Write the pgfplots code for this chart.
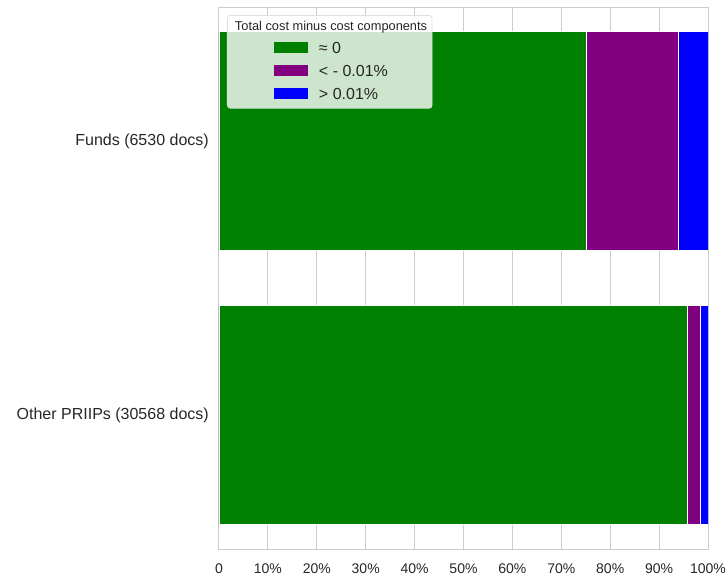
\documentclass[border=0pt]{standalone}
\usepackage{fontspec}
\setmainfont{Liberation Sans}
\usepackage{pgfplots}
\pgfplotsset{compat=1.18}
\definecolor{barGreen}{HTML}{008000}
\definecolor{barPurple}{HTML}{800080}
\definecolor{barBlue}{HTML}{0000FF}
\definecolor{spine}{HTML}{CCCCCC}
\definecolor{txt}{HTML}{262626}
\begin{document}
\begin{tikzpicture}
\useasboundingbox (-219bp,-28bp) rectangle (509bp,549bp);
\begin{axis}[
    at={(0,0)}, anchor=south west,
    scale only axis, width=489bp, height=542bp,
    xbar stacked, bar width=0.8,
    xmin=0, xmax=100, ymin=-0.49, ymax=1.49, y dir=reverse,
    xtick={0,10,...,100},
    xticklabels={0,10\%,20\%,30\%,40\%,50\%,60\%,70\%,80\%,90\%,100\%},
    ytick={0,1},
    yticklabels={Funds (6530 docs),Other PRIIPs (30568 docs)},
    major tick length=0pt,
    xmajorgrids, ymajorgrids=false,
    major grid style={spine, line width=1bp},
    axis line style={spine, line width=1bp},
    /pgf/number format/assume math mode=true,
    xticklabel style={font=\fontsize{14bp}{17bp}\selectfont, text=txt, yshift=-11bp},
    yticklabel style={font=\fontsize{16bp}{19bp}\selectfont, text=txt, xshift=-6.7bp},
    legend style={
        at={(axis description cs:0,1)}, anchor=north west, xshift=8bp, yshift=-8bp,
        fill=white, fill opacity=0.8, draw opacity=1, text opacity=1,
        draw=black!12, rounded corners=3bp, line width=0.8bp,
        inner xsep=5bp, inner ysep=3.2bp,
        column sep=11bp, row sep=4.8bp,
        cells={anchor=base west},
        nodes={inner sep=0pt, text height=12bp, text depth=6bp, text=txt},
        font=\fontsize{16bp}{19bp}\selectfont,
    },
    legend entries={{\fontsize{12.8bp}{15bp}\selectfont\hspace*{-84bp}Total cost minus cost components},{≈ 0},{< - 0.01\%},{> 0.01\%}},
]
\addlegendimage{empty legend}
% share of documents, in percent
\addplot[fill=barGreen, draw=white, line width=0.6bp,
    legend image code/.code={\fill[barGreen, sharp corners, fill opacity=1] (0bp,0.7bp) rectangle (33bp,10.7bp); \path (-42bp,0bp);}]
    coordinates {(75.2,0) (95.8,1)};
\addplot[fill=barPurple, draw=white, line width=0.6bp,
    legend image code/.code={\fill[barPurple, sharp corners, fill opacity=1] (0bp,0.7bp) rectangle (33bp,10.7bp); \path (-42bp,0bp);}]
    coordinates {(18.8,0) (2.6,1)};
\addplot[fill=barBlue, draw=white, line width=0.6bp,
    legend image code/.code={\fill[barBlue, sharp corners, fill opacity=1] (0bp,0.7bp) rectangle (33bp,10.7bp); \path (-42bp,0bp);}]
    coordinates {(6.0,0) (1.6,1)};
\end{axis}
\end{tikzpicture}
\end{document}
